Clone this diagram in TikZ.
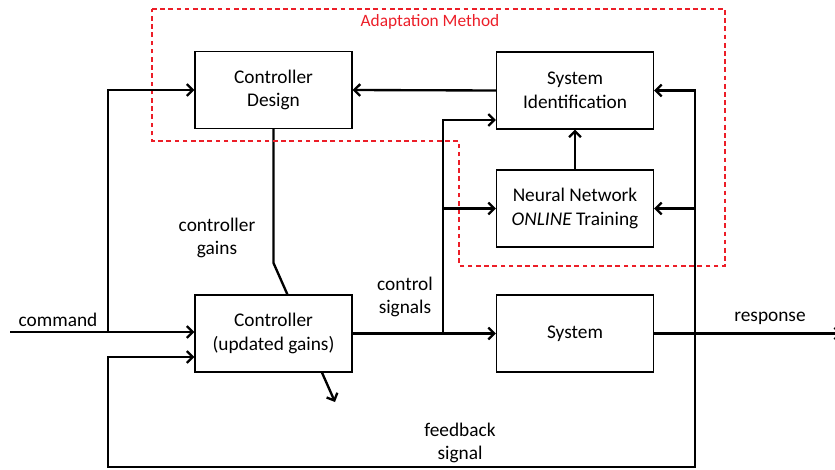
\documentclass[tikz,border=0pt]{standalone}
\usepackage{fontspec}
\setmainfont{Carlito}
\usetikzlibrary{arrows.meta,backgrounds}

\definecolor{adapt}{RGB}{236,30,40}

\tikzset{
  block/.style={draw, line width=1.1pt, fill=white, minimum width=4.71cm, minimum height=2.31cm,
    align=center, font=\fontsize{16.5}{20}\selectfont},
  sig/.style={line width=2pt, -{Straight Barb[length=5pt,width=10pt]}},
  wire/.style={line width=2pt},
  lbl/.style={align=center, font=\fontsize{16.5}{20}\selectfont},
}

\begin{document}
\begin{tikzpicture}[x=0.03cm, y=-0.03cm]
  \useasboundingbox (0,0) rectangle (835,469);
  \def \xa {108}
  \def \xb {443}
  \def \xc {695}

  \node[block] (cd)   at (273.5,90)  {Controller\\Design};
  \node[block] (sid)  at (575,90.5)  {System\\Identification};
  \node[block] (nn)   at (575,208.5) {Neural Network\\\textit{ONLINE} Training};
  \node[block] (ctrl) at (273.5,333.5) {Controller\\(updated gains)};
  \node[block] (sys)  at (575,333.5) {System};

  % adaptation method region
  \draw[adapt, line width=0.95pt, dash pattern=on 4pt off 3pt] (152,9) -- (725,9) -- (725,266) -- (459,266) -- (459,141) -- (152,141) -- cycle;
  \node[lbl, text=adapt, font=\fontsize{14.8}{18}\selectfont] (am) at (430,22) {Adaptation Method};

  \coordinate (cmd)  at (10,332);
  \coordinate (jcmd) at (\xa,332);
  \coordinate (fb)   at (\xa,357);
  \coordinate (jctl) at (\xb,333.5);
  \coordinate (jsid) at (\xb,120);
  \coordinate (jresp) at (\xc,333.5);
  \coordinate (resp) at (842,333.5);
  \coordinate (gbend) at (273.5,263);
  \coordinate (gtip) at (335,402);

  % command and feedback
  \draw[sig] (cmd) -- (cmd -| ctrl.west);
  \draw[sig] (jcmd) |- (cd.west);
  \draw[sig] (jresp) -- (\xc,467) -| (fb) -- (fb -| ctrl.west);
  \draw[sig] (jresp) |- (sid.east);
  \draw[sig] (jresp |- nn.east) -- (nn.east);
  \draw[sig] (sys.east) -- (resp);

  % control signals
  \draw[sig] (ctrl.east) -- (sys.west);
  \draw[sig] (jctl) -- (jsid) -- (jsid -| sid.west);
  \draw[sig] (jctl |- nn.west) -- (nn.west);
  \draw[sig] (nn.north) -- (sid.south);
  \draw[sig] (sid.west) -- (cd.east);

  % controller gains
  \begin{scope}[on background layer]
    \draw[sig] (cd.south) -- (gbend) -- (gtip);
  \end{scope}

  \node[lbl] (lcmd)  at (58,320)  {command};
  \node[lbl] (lgain) at (217,238) {controller\\gains};
  \node[lbl] (lctl)  at (405,297) {control\\signals};
  \node[lbl] (lfb)   at (460,443) {feedback\\signal};
  \node[lbl] (lresp) at (770,318) {response};
\end{tikzpicture}
\end{document}
